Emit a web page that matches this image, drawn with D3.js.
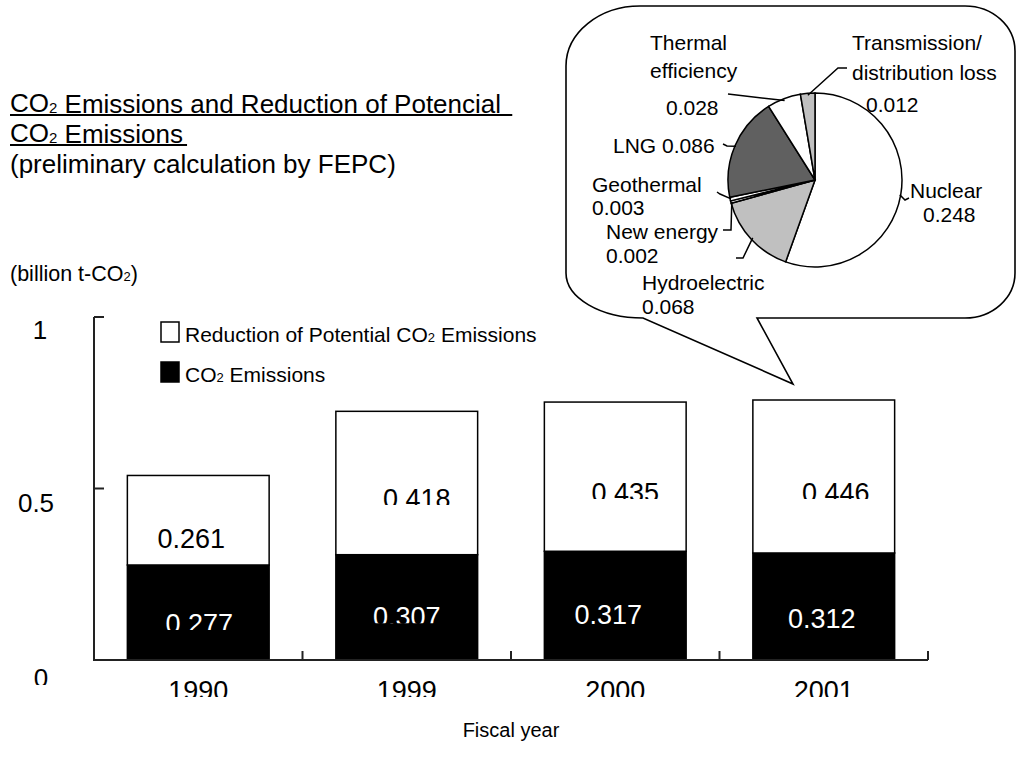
<!DOCTYPE html>
<html><head><meta charset="utf-8">
<script src="https://cdnjs.cloudflare.com/ajax/libs/d3/7.8.5/d3.min.js"></script>
<style>
html,body{margin:0;padding:0;background:#fff;}
svg{display:block;font-family:"Liberation Sans",Arial,sans-serif;}
</style></head>
<body><svg id="c" width="1017" height="760"></svg>
<script>
// ---- data ----
const years = ["1990","1999","2000","2001"];
const emissions = [0.277, 0.307, 0.317, 0.312];
const reductions = [0.261, 0.418, 0.435, 0.446];
const yTicks = [0, 0.5, 1];
const yTickLabels = ["0", "0.5", "1"];
const pieNames = ["Nuclear","Hydroelectric","New energy","Geothermal","LNG","Thermal efficiency","Transmission/distribution loss"];
const pieValues = [0.248, 0.068, 0.002, 0.003, 0.086, 0.028, 0.012];
const pieFills = ["#ffffff","#c0c0c0","#ffffff","#ffffff","#606060","#ffffff","#c0c0c0"];

const svg = d3.select("#c");
const defs = svg.append("defs");
let clipId = 0;
function clipBottom(sel, yCut) {
  const id = "cl" + (clipId++);
  defs.append("clipPath").attr("id", id).append("rect").attr("x", 0).attr("y", 0).attr("width", 1017).attr("height", yCut);
  sel.attr("clip-path", `url(#${id})`);
}

// ---- scales ----
const x = d3.scaleBand().domain(years).range([94, 928]).paddingInner(0.32).paddingOuter(0.16);
const y = d3.scaleLinear().domain([0, 1]).range([660, 317]);

// ---- title ----
function co2(sel, size, sub, dy) {
  sel.append("tspan").text("CO");
  sel.append("tspan").attr("font-size", sub).attr("dy", dy).text("2");
  sel.append("tspan").attr("dy", -dy).attr("font-size", size).text("");
}
const t1 = svg.append("text").attr("x", 10).attr("y", 112).attr("font-size", 26);
co2(t1, 26, 15, 1);
t1.append("tspan").text(" Emissions and Reduction of Potencial\u00a0");
const t2 = svg.append("text").attr("x", 10).attr("y", 142).attr("font-size", 26);
co2(t2, 26, 15, 1);
t2.append("tspan").text(" Emissions");
svg.append("text").attr("x", 10).attr("y", 173).attr("font-size", 26).text("(preliminary calculation by FEPC)");
[t1, t2].forEach(t => {
  const b = t.node().getBBox();
  svg.append("line").attr("x1", 10).attr("x2", b.x + b.width + 4).attr("y1", +t.attr("y") + 3).attr("y2", +t.attr("y") + 3)
    .attr("stroke", "#000").attr("stroke-width", 2);
});

// unit label
const ul = svg.append("text").attr("x", 10).attr("y", 281).attr("font-size", 21.5);
ul.append("tspan").text("(billion t-CO");
ul.append("tspan").attr("font-size", 13).text("2");
ul.append("tspan").text(")");

// ---- bars ----
const stackData = years.map((yr, i) => ({year: yr, e: emissions[i], r: reductions[i]}));
const stack = d3.stack().keys(["e", "r"])(stackData);
const fills = {e: "#000", r: "#fff"};
// label placement tweaks (layout only)
const lblDx = {e: [1, 0, -7, -2], r: [-7, 10, 10, 12]};
const lblDy = {e: [20.5, 19, 18.4, 21.5], r: [28, 25, 25.4, 25.5]};
const lblCut = {e: [true, true, false, false], r: [false, true, true, true]};
stack.forEach(s => {
  svg.append("g").selectAll("rect").data(s).join("rect")
    .attr("x", d => x(d.data.year)).attr("width", x.bandwidth())
    .attr("y", d => y(d[1])).attr("height", d => y(d[0]) - y(d[1]))
    .attr("fill", fills[s.key]).attr("stroke", "#000").attr("stroke-width", 1.5);
  s.forEach((d, i) => {
    const by = y((d[0] + d[1]) / 2) + lblDy[s.key][i];
    const t = svg.append("text")
      .attr("x", x(d.data.year) + x.bandwidth() / 2 + lblDx[s.key][i])
      .attr("y", by)
      .attr("text-anchor", "middle").attr("font-size", 27)
      .attr("fill", s.key === "e" ? "#fff" : "#000")
      .text(d3.format(".3f")(d[1] - d[0]));
    if (lblCut[s.key][i]) clipBottom(t, by - 3);
  });
});

// ---- axes ----
const axisColor = "#222";
svg.append("line").attr("x1", 94).attr("x2", 94).attr("y1", y(1)).attr("y2", y(0)).attr("stroke", axisColor).attr("stroke-width", 2);
svg.append("line").attr("x1", 93).attr("x2", 928).attr("y1", y(0)).attr("y2", y(0)).attr("stroke", axisColor).attr("stroke-width", 2);
const tickLblX = [41, 36, 40];
const tickLblDy = [27, 23, 22];
yTicks.forEach((v, i) => {
  svg.append("line").attr("x1", 94).attr("x2", 104).attr("y1", y(v)).attr("y2", y(v)).attr("stroke", axisColor).attr("stroke-width", 2);
  const t = svg.append("text").attr("x", tickLblX[i]).attr("y", y(v) + tickLblDy[i]).attr("text-anchor", "middle").attr("font-size", 26).text(yTickLabels[i]);
  if (v === 0) clipBottom(t, y(v) + tickLblDy[i] - 2);
});
years.forEach((yr, i) => {
  const bx = x.range()[0] + (i + 1) * (x.range()[1] - x.range()[0]) / years.length;
  svg.append("line").attr("x1", bx).attr("x2", bx).attr("y1", y(0)).attr("y2", y(0) - 9).attr("stroke", axisColor).attr("stroke-width", 2);
  const t = svg.append("text").attr("x", x(yr) + x.bandwidth() / 2).attr("y", 700).attr("text-anchor", "middle").attr("font-size", 27).text(yr);
  clipBottom(t, 697);
});
svg.append("text").attr("x", 511).attr("y", 737).attr("text-anchor", "middle").attr("font-size", 20).text("Fiscal year");

// ---- legend ----
const lg = [{k: "r", y: 322}, {k: "e", y: 362}];
lg.forEach(l => {
  svg.append("rect").attr("x", 161).attr("y", l.y).attr("width", 18).attr("height", 20)
    .attr("fill", fills[l.k]).attr("stroke", "#000").attr("stroke-width", 1.5);
  const t = svg.append("text").attr("x", 185).attr("y", l.y + 20).attr("font-size", 21);
  if (l.k === "r") {
    t.append("tspan").text("Reduction of Potential CO");
    t.append("tspan").attr("font-size", 13).text("2");
    t.append("tspan").text(" Emissions");
  } else {
    t.append("tspan").text("CO");
    t.append("tspan").attr("font-size", 13).text("2");
    t.append("tspan").text(" Emissions");
  }
});

// ---- callout bubble ----
svg.append("path")
  .attr("d", "M640,6 H965 A50,45 0 0 1 1015,51 V273 A50,45 0 0 1 965,318 H757 L793,384 L643,318 A77,45 0 0 1 566,273 V66 A74,60 0 0 1 640,6 Z")
  .attr("fill", "#fff").attr("stroke", "#000").attr("stroke-width", 1.6);

// ---- pie ----
const cx = 815, cy = 180, R = 87;
const pie = d3.pie().sort(null).value(d => d)(pieValues);
const arc = d3.arc().innerRadius(0).outerRadius(R);
const pg = svg.append("g").attr("transform", `translate(${cx},${cy})`);
pg.selectAll("path").data(pie).join("path").attr("d", arc)
  .attr("fill", (d, i) => pieFills[i]).attr("stroke", "#000").attr("stroke-width", 1.5);

function edge(i, rr) {
  const a = (pie[i].startAngle + pie[i].endAngle) / 2;
  return [cx + Math.sin(a) * (rr || R), cy - Math.cos(a) * (rr || R)];
}
const leaderPts = [
  [edge(0, R - 1), [905, 200], [909, 198]],
  [edge(1, R - 2), [743, 258], [736, 258]],
  [edge(2, R - 1), [731, 230], [723, 230]],
  [edge(3, R - 1), [720, 194], [717, 192]],
  [edge(4, R - 1), [727, 146], [723, 144]],
  [edge(5, R - 2), [728, 94]],
  [edge(6, R - 2), [838, 68], [847, 68]]
];
leaderPts.forEach(p => {
  svg.append("path").attr("d", d3.line()(p)).attr("fill", "none").attr("stroke", "#000").attr("stroke-width", 1.5);
});

const valTxt = pieValues.map(v => d3.format(".3f")(v));
const pl = [
  ["Nuclear", 910, 198], [valTxt[0], 923, 222],
  ["Hydroelectric", 642, 290], [valTxt[1], 642, 314],
  ["New energy", 606, 239], [valTxt[2], 606, 263],
  ["Geothermal", 592, 192], [valTxt[3], 592, 215],
  ["LNG " + valTxt[4], 613, 153],
  ["Thermal", 650, 50], ["efficiency", 650, 78], [valTxt[5], 666, 115],
  ["Transmission/", 852, 50], ["distribution loss", 852, 80], [valTxt[6], 866, 112]
];
pl.forEach(p => {
  svg.append("text").attr("x", p[1]).attr("y", p[2]).attr("font-size", 21).text(p[0]);
});
</script></body></html>
